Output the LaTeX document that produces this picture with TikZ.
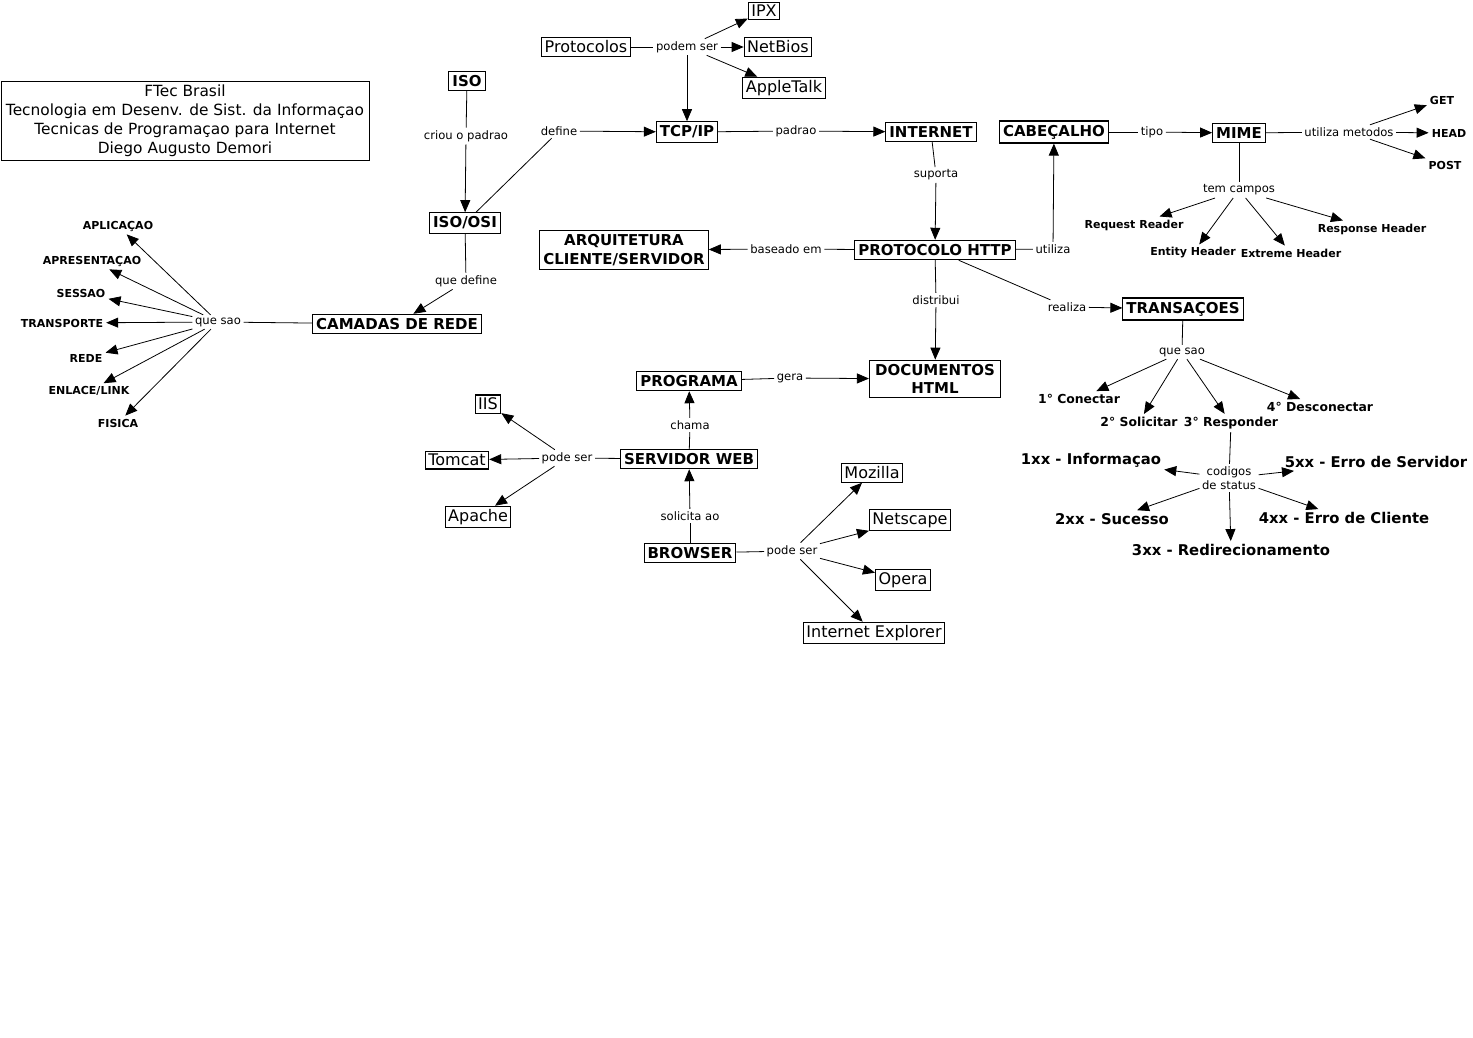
\documentclass[tikz,border=0pt]{standalone}
\usepackage{fontspec}
\setmainfont{DejaVu Sans}
\usetikzlibrary{arrows.meta}
\tikzset{
 cbox/.style={draw, line width=1.1pt, inner xsep=3.5pt, inner ysep=4pt, font=\fontsize{15}{18.5}\selectfont\bfseries, align=center},
 rbox/.style={draw, line width=1.1pt, inner xsep=3pt, inner ysep=3pt, font=\fontsize{16}{18}\selectfont},
 lab/.style={inner sep=2.5pt, font=\fontsize{11.6}{13}\selectfont, align=center},
 leaf/.style={inner sep=3pt, font=\fontsize{11}{13}\selectfont\bfseries},
 mleaf/.style={inner sep=3pt, font=\fontsize{12.4}{15}\selectfont\bfseries},
 bleaf/.style={inner sep=3pt, font=\fontsize{14.8}{17}\selectfont\bfseries},
 ln/.style={line width=0.8pt},
 arr/.style={line width=0.8pt, -{Triangle[length=12pt,width=10pt]}},
}
\begin{document}
\begin{tikzpicture}[x=1pt,y=-1pt]
\fill[white] (0,0) rectangle (1473,1037);
\useasboundingbox (0,0) rectangle (1473,1037);

% title
\node[draw, line width=1pt, minimum width=368pt, minimum height=79pt, align=center,
  font=\fontsize{15.4}{19}\selectfont] (title) at (185,120.5)
  {FTec Brasil\\Tecnologia em Desenv. de Sist. da Informaçao\\Tecnicas de Programaçao para Internet\\Diego Augusto Demori};

% boxes
\node[cbox] (iso) at (467,81) {ISO};
\node[cbox] (isoosi) at (465,223) {ISO/OSI};
\node[cbox] (cam) at (397,324) {CAMADAS DE REDE};
\node[rbox] (prot) at (586,47) {Protocolos};
\node[rbox] (ipx) at (764,11) {IPX};
\node[rbox] (netbios) at (778,47) {NetBios};
\node[rbox] (apple) at (784,88) {AppleTalk};
\node[cbox] (tcpip) at (687,132) {TCP/IP};
\node[cbox] (internet) at (931,132) {INTERNET};
\node[cbox] (http) at (935,250) {PROTOCOLO HTTP};
\node[cbox] (arq) at (624,250) {ARQUITETURA\\CLIENTE/SERVIDOR};
\node[cbox] (cab) at (1054,132) {CABEÇALHO};
\node[cbox] (mime) at (1239,133) {MIME};
\node[cbox, minimum width=131pt] (doc) at (935,379) {DOCUMENTOS\\HTML};
\node[cbox] (trans) at (1183,309) {TRANSAÇOES};
\node[cbox] (prog) at (689,381) {PROGRAMA};
\node[cbox] (sw) at (689,459) {SERVIDOR WEB};
\node[cbox] (browser) at (690,553) {BROWSER};
\node[rbox] (iis) at (488,404) {IIS};
\node[rbox] (tomcat) at (457,460) {Tomcat};
\node[rbox] (apache) at (478,517) {Apache};
\node[rbox] (mozilla) at (872,473) {Mozilla};
\node[rbox] (netscape) at (910,520) {Netscape};
\node[rbox] (opera) at (903,580) {Opera};
\node[rbox] (ie) at (874,633) {Internet Explorer};

% leaves
\node[leaf] (apl) at (118,226) {APLICAÇAO};
\node[leaf] (apr) at (92,261) {APRESENTAÇAO};
\node[leaf] (ses) at (81,293) {SESSAO};
\node[leaf] (tra) at (62,323) {TRANSPORTE};
\node[leaf] (red) at (86,358) {REDE};
\node[leaf] (enl) at (89,391) {ENLACE/LINK};
\node[leaf] (fis) at (118,423) {FISICA};
\node[leaf] (get) at (1442,100) {GET};
\node[leaf] (head) at (1449,133) {HEAD};
\node[leaf] (post) at (1445,165) {POST};
\node[leaf] (rr) at (1134,225) {Request Reader};
\node[leaf] (eh) at (1193,253) {Entity Header};
\node[leaf] (xh) at (1291,253) {Extreme Header};
\node[leaf] (rh) at (1372,229) {Response Header};
\node[mleaf] (c1) at (1079,399) {1° Conectar};
\node[mleaf] (s2) at (1139,422) {2° Solicitar};
\node[mleaf] (r3) at (1231,423) {3° Responder};
\node[mleaf] (d4) at (1320,407) {4° Desconectar};
\node[bleaf] (x1) at (1091,460) {1xx - Informaçao};
\node[bleaf] (x5) at (1376,462) {5xx - Erro de Servidor};
\node[bleaf] (x2) at (1112,519) {2xx - Sucesso};
\node[bleaf] (x4) at (1344,518) {4xx - Erro de Cliente};
\node[bleaf] (x3) at (1231,550) {3xx - Redirecionamento};

% link labels
\node[lab] (criou) at (466,136) {criou o padrao};
\node[lab] (define) at (559,131) {define};
\node[lab] (quedef) at (466,281) {que define};
\node[lab] (quesao1) at (218,322) {que sao};
\node[lab] (podem) at (687,47) {podem ser};
\node[lab] (padrao) at (796,131) {padrao};
\node[lab] (suporta) at (936,175) {suporta};
\node[lab] (baseado) at (786,249) {baseado em};
\node[lab] (utiliza) at (1053,249) {utiliza};
\node[lab] (tipo) at (1152,132) {tipo};
\node[lab] (metodos) at (1349,132) {utiliza metodos};
\node[lab] (campos) at (1239,190) {tem campos};
\node[lab] (distribui) at (936,300) {distribui};
\node[lab] (realiza) at (1067,307) {realiza};
\node[lab] (quesao2) at (1182,352) {que sao};
\node[lab, font=\fontsize{11.6}{14}\selectfont] (codigos) at (1229,478) {codigos\\de status};
\node[lab] (gera) at (790,378) {gera};
\node[lab] (chama) at (690,425) {chama};
\node[lab] (podeser1) at (567,458) {pode ser};
\node[lab] (solicita) at (690,516) {solicita ao};
\node[lab] (podeser2) at (792,551) {pode ser};

% connectors
\draw[ln] (iso) -- (criou); \draw[arr] (criou) -- (isoosi);
\draw[ln] (isoosi) -- (define); \draw[arr] (define) -- (tcpip);
\draw[ln] (isoosi) -- (quedef); \draw[arr] (quedef) -- (cam);
\draw[ln] (cam) -- (quesao1);
\foreach \t in {apl,apr,ses,tra,red,enl,fis} \draw[arr] (quesao1) -- (\t);
\draw[ln] (prot) -- (podem);
\foreach \t in {ipx,netbios,apple,tcpip} \draw[arr] (podem) -- (\t);
\draw[ln] (tcpip) -- (padrao); \draw[arr] (padrao) -- (internet);
\draw[ln] (internet) -- (suporta); \draw[arr] (suporta) -- (http);
\draw[ln] (http) -- (baseado); \draw[arr] (baseado) -- (arq);
\draw[ln] (http) -- (utiliza); \draw[arr] (utiliza) -- (cab);
\draw[ln] (cab) -- (tipo); \draw[arr] (tipo) -- (mime);
\draw[ln] (mime) -- (metodos);
\foreach \t in {get,head,post} \draw[arr] (metodos) -- (\t);
\draw[ln] (mime) -- (campos);
\foreach \t in {rr,eh,xh,rh} \draw[arr] (campos) -- (\t);
\draw[ln] (http) -- (distribui); \draw[arr] (distribui) -- (doc);
\draw[ln] (http) -- (realiza); \draw[arr] (realiza) -- (trans);
\draw[ln] (trans) -- (quesao2);
\foreach \t in {c1,s2,r3,d4} \draw[arr] (quesao2) -- (\t);
\draw[ln] (r3) -- (codigos);
\foreach \t in {x1,x5,x2,x4,x3} \draw[arr] (codigos) -- (\t);
\draw[ln] (prog) -- (gera); \draw[arr] (gera) -- (doc);
\draw[ln] (sw) -- (chama); \draw[arr] (chama) -- (prog);
\draw[ln] (sw) -- (podeser1);
\foreach \t in {iis,tomcat,apache} \draw[arr] (podeser1) -- (\t);
\draw[ln] (browser) -- (solicita); \draw[arr] (solicita) -- (sw);
\draw[ln] (browser) -- (podeser2);
\foreach \t in {mozilla,netscape,opera,ie} \draw[arr] (podeser2) -- (\t);
\end{tikzpicture}
\end{document}
